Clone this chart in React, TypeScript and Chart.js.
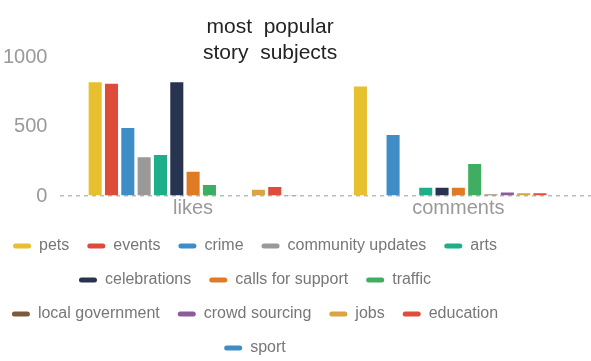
import React, { useEffect, useRef } from "react";
import { Chart, registerables } from "chart.js";

Chart.register(...registerables);

const categories = ["likes", "comments"];
const subjects = [
  "pets",
  "events",
  "crime",
  "community updates",
  "arts",
  "celebrations",
  "calls for support",
  "traffic",
  "local government",
  "crowd sourcing",
  "jobs",
  "education",
  "sport",
];
const likes = [820, 810, 490, 280, 295, 820, 175, 80, 5, 5, 45, 65, 3];
const comments = [790, 0, 440, 0, 60, 60, 60, 230, 10, 25, 20, 20, 5];
const colors = [
  "#e6c02e",
  "#dd4b39",
  "#3f8dc6",
  "#999999",
  "#1dae8a",
  "#28344f",
  "#e07b25",
  "#3fae60",
  "#7b5a3c",
  "#8e5a9e",
  "#d9a441",
  "#e04b3c",
  "#3f8dc6",
];
const yTicks = [0, 500, 1000];
const titleLines = ["most  popular       ", "story  subjects       "];
const LEGEND_WRAP_WIDTH = 530;

const legendWrap = {
  id: "legendWrap",
  beforeUpdate(chart: any) {
    const leg: any = chart.legend;
    if (!leg || leg.__wrapped) return;
    leg.__wrapped = true;
    const fitRows = leg._fitRows;
    leg._fitRows = function (...a: any[]) {
      const m = this.maxWidth;
      this.maxWidth = LEGEND_WRAP_WIDTH;
      const r = fitRows.apply(this, a);
      this.maxWidth = m;
      return r;
    };
    const draw = leg.draw;
    leg.draw = function (...a: any[]) {
      const r0 = this.right;
      this.right = this.left + LEGEND_WRAP_WIDTH;
      draw.apply(this, a);
      this.right = r0;
    };
  },
};

export default function App() {
  const ref = useRef<HTMLCanvasElement>(null);
  useEffect(() => {
    if (!ref.current) return;
    const chart = new Chart(ref.current, {
      type: "bar",
      data: {
        labels: categories,
        datasets: subjects.map((s, i) => ({
          label: s,
          data: [likes[i], comments[i]],
          backgroundColor: colors[i],
          borderWidth: 0,
        })),
      },
      plugins: [legendWrap],
      options: {
        animation: false,
        responsive: false,
        maintainAspectRatio: false,
        layout: { padding: { left: -10, right: 0, top: 0, bottom: -5 } },
        datasets: { bar: { categoryPercentage: 0.8, barPercentage: 0.8 } },
        plugins: {
          title: {
            display: true,
            text: titleLines,
            color: "#222",
            font: { family: "Liberation Sans", size: 21, weight: "normal", lineHeight: 1.2 },
            padding: { top: 15, bottom: -8 },
          },
          legend: {
            position: "bottom",
            labels: {
              color: "#777",
              font: { family: "Liberation Sans", size: 16 },
              boxWidth: 18,
              boxHeight: 5,
              useBorderRadius: true,
              borderRadius: 2.5,
              padding: 18,
            },
          },
          tooltip: { enabled: false },
        },
        scales: {
          x: {
            grid: { display: false, drawTicks: false },
            border: { display: false },
            ticks: {
              color: "#999",
              font: { family: "Liberation Sans", size: 20, lineHeight: 1.0 },
              padding: 2,
            },
          },
          y: {
            min: 0,
            max: 1000,
            afterBuildTicks: (axis: any) => {
              axis.ticks = yTicks.map((v) => ({ value: v }));
            },
            grid: {
              drawTicks: false,
              color: (ctx: any) => (ctx.tick && ctx.tick.value === 0 ? "#bbbbbb" : "rgba(0,0,0,0)"),
              lineWidth: 1.5,
            },
            border: { display: false, dash: [4, 4] },
            ticks: {
              color: "#999",
              font: { family: "Liberation Sans", size: 20 },
              padding: 13,
              callback: (v: any) => String(v),
            },
          },
        },
      },
    });
    return () => chart.destroy();
  }, []);
  return (
    <div style={{ position: "fixed", left: 0, top: 0, width: 591, height: 361, background: "#fff" }}>
      <canvas ref={ref} width={591} height={361} style={{ width: 591, height: 361 }} />
    </div>
  );
}
